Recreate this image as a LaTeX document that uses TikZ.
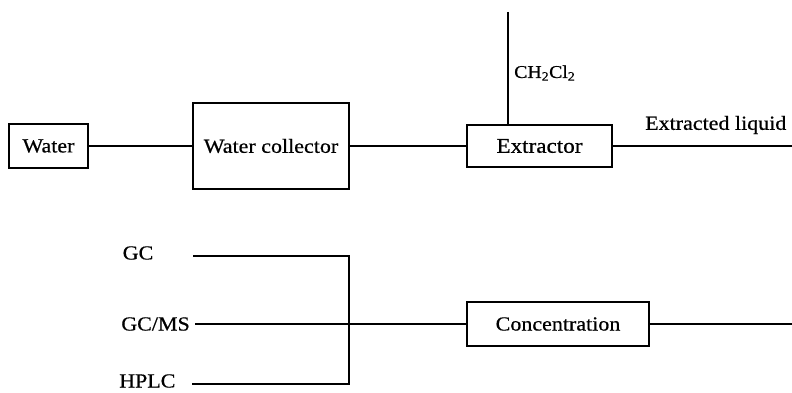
\documentclass[tikz,border=0pt]{standalone}
\usepackage{fontspec}
\setmainfont{Liberation Serif}[FakeStretch=1.1,FakeBold=0.6]
\begin{document}
\begin{tikzpicture}[x=1pt,y=-1pt,
  box/.style={draw,line width=2.6pt,inner sep=0pt,font=\fontsize{20}{23}\selectfont},
  conn/.style={line width=1.4pt},
  lbl/.style={font=\fontsize{20}{23}\selectfont,inner sep=0pt}]
\useasboundingbox (0,0) rectangle (792,393);
% boxes
\node[box,minimum width=79,minimum height=44] (water) at (48.5,146) {Water};
\node[box,minimum width=156,minimum height=86] (coll) at (271,146) {Water collector};
\node[box,minimum width=145,minimum height=42,font=\fontsize{21}{24}\selectfont] (extr) at (539.5,146) {Extractor};
\node[box,minimum width=182,minimum height=44] (conc) at (558,324) {Concentration};
% labels
\coordinate (top) at (508,12);
\node[lbl,anchor=west,font=\fontsize{18}{21}\selectfont] (ch) at (514,73) {CH\textsubscript{2}Cl\textsubscript{2}};
\node[lbl,anchor=west] (el) at (645,125) {Extracted liquid};
\coordinate (eend) at (792,146);
\coordinate (cend) at (792,324);
\node[lbl,anchor=center] (gc) at (138,253) {GC};
\node[lbl,anchor=east] (gcms) at (190,324) {GC/MS};
\node[lbl,anchor=west] (hplc) at (119,381) {HPLC};
\coordinate (j1) at (349,256);
\coordinate (j2) at (349,384);
\coordinate (gcs) at (193,256);
\coordinate (hps) at (192,384);
% connectors
\draw[conn] (water.east) -- (coll.west);
\draw[conn] (coll.east) -- (extr.west);
\draw[conn] (top) -- (top |- extr.north);
\draw[conn] (extr.east) -- (eend);
\draw[conn] (gcs) -- (j1) -- (j2) -- (hps);
\draw[conn] ([xshift=5pt]gcms.east) -- (conc.west);
\draw[conn] (conc.east) -- (cend);
\end{tikzpicture}
\end{document}
